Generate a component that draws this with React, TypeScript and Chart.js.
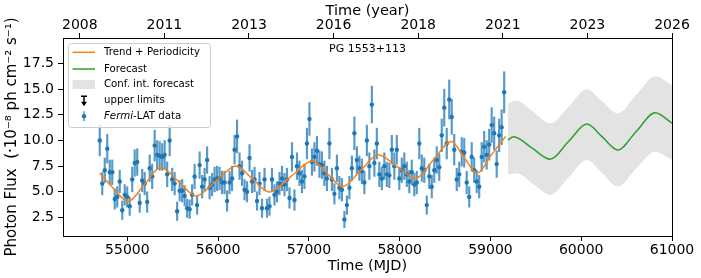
import React, { useEffect, useRef } from 'react';
import { Chart, registerables } from 'chart.js';

Chart.register(...registerables);

// ---- Data ----
const MJD = [
  54696, 54723.5, 54751, 54778.5, 54806, 54833.5, 54861, 54888.5, 54916, 54943.5,
  54971, 54998.5, 55026, 55053.5, 55081, 55108.5, 55136, 55163.5, 55191, 55218.5,
  55246, 55273.5, 55301, 55328.5, 55356, 55383.5, 55411, 55438.5, 55466, 55493.5,
  55521, 55548.5, 55576, 55603.5, 55631, 55658.5, 55686, 55713.5, 55741, 55768.5,
  55796, 55823.5, 55851, 55878.5, 55906, 55933.5, 55961, 55988.5, 56016, 56043.5,
  56071, 56098.5, 56126, 56153.5, 56181, 56208.5, 56236, 56263.5, 56291, 56318.5,
  56346, 56373.5, 56401, 56428.5, 56456, 56483.5, 56511, 56538.5, 56566, 56593.5,
  56621, 56648.5, 56676, 56703.5, 56731, 56758.5, 56786, 56813.5, 56841, 56868.5,
  56896, 56923.5, 56951, 56978.5, 57006, 57033.5, 57061, 57088.5, 57116, 57143.5,
  57171, 57198.5, 57226, 57253.5, 57281, 57308.5, 57336, 57363.5, 57391, 57418.5,
  57446, 57473.5, 57501, 57528.5, 57556, 57583.5, 57611, 57638.5, 57666, 57693.5,
  57721, 57748.5, 57776, 57803.5, 57831, 57858.5, 57886, 57913.5, 57941, 57968.5,
  57996, 58023.5, 58051, 58078.5, 58106, 58133.5, 58161, 58188.5, 58216, 58243.5,
  58271, 58298.5, 58326, 58353.5, 58381, 58408.5, 58436, 58463.5, 58491, 58518.5,
  58546, 58573.5, 58601, 58628.5, 58656, 58683.5, 58711, 58738.5, 58766, 58793.5,
  58821, 58848.5, 58876, 58903.5, 58931, 58958.5, 58986, 59013.5, 59041, 59068.5,
  59096, 59123.5, 59151,
];

const FLUX = [
  10.0, 5.8, 7.1, 9.2, 6.9, 6.9, 4.3, 4.5, 6.0, 3.2,
  4.7, 4.5, 3.6, 6.2, 7.8, 7.9, 3.9, 6.1, 5.8, 4.0,
  7.3, 6.5, 9.5, 8.6, 8.5, 8.4, 8.6, 6.7, 10.0, 6.2,
  5.8, 3.1, 5.1, 5.1, 4.6, 3.4, 3.3, 4.7, 6.5, 3.7,
  7.6, 5.5, 6.2, 8.1, 5.4, 5.7, 6.2, 6.3, 6.3, 5.9,
  5.9, 4.1, 5.9, 6.3, 9.1, 10.4, 7.5, 6.8, 5.2, 5.0,
  8.3, 6.0, 6.2, 4.1, 5.8, 3.4, 6.2, 3.4, 3.6, 6.2,
  4.7, 5.0, 5.8, 6.3, 5.7, 6.2, 4.4, 8.4, 4.2, 7.5,
  6.8, 6.0, 6.5, 9.7, 12.1, 7.9, 8.4, 9.0, 7.7, 7.6,
  6.8, 6.3, 9.7, 6.2, 4.8, 7.3, 5.4, 5.2, 2.3, 3.7,
  5.4, 7.3, 10.7, 8.1, 7.3, 7.0, 5.9, 10.0, 7.5, 13.5,
  7.8, 9.7, 6.7, 6.3, 7.5, 6.7, 6.6, 9.1, 7.5, 9.1,
  6.3, 7.1, 7.5, 6.7, 6.0, 6.9, 5.7, 5.9, 9.7, 7.3,
  7.1, 3.7, 6.5, 5.5, 7.1, 8.1, 7.4, 10.5, 13.2, 9.7,
  14.0, 12.3, 9.1, 6.2, 6.7, 8.9, 8.8, 5.9, 4.5, 8.4,
  7.1, 6.0, 5.5, 8.4, 9.4, 8.6, 9.6, 11.5, 10.7, 7.7,
  10.5, 11.3, 14.7,
];

const FLUX_ERR = [
  1.5, 1.1, 1.2, 1.4, 1.2, 1.2, 1.0, 1.0, 1.1, 0.9,
  1.0, 1.0, 0.9, 1.2, 1.3, 1.3, 0.9, 1.1, 1.1, 1.0,
  1.3, 1.2, 1.5, 1.4, 1.4, 1.3, 1.4, 1.2, 1.5, 1.1,
  1.1, 0.9, 1.0, 1.1, 1.0, 0.9, 0.9, 1.0, 1.2, 0.9,
  1.3, 1.1, 1.1, 1.3, 1.1, 1.1, 1.2, 1.2, 1.1, 1.1,
  1.1, 1.0, 1.1, 1.2, 1.4, 1.6, 1.3, 1.2, 1.0, 1.0,
  1.3, 1.1, 1.2, 0.9, 1.1, 0.9, 1.1, 0.9, 0.9, 1.1,
  1.0, 1.0, 1.1, 1.2, 1.1, 1.1, 1.0, 1.4, 1.0, 1.3,
  1.2, 1.1, 1.2, 1.5, 1.6, 1.3, 1.4, 1.4, 1.3, 1.3,
  1.2, 1.2, 1.5, 1.1, 1.0, 1.3, 1.1, 1.1, 0.8, 0.9,
  1.1, 1.2, 1.6, 1.3, 1.2, 1.2, 1.1, 1.5, 1.3, 1.8,
  1.3, 1.5, 1.2, 1.1, 1.3, 1.2, 1.2, 1.4, 1.3, 1.4,
  1.1, 1.2, 1.3, 1.2, 1.1, 1.2, 1.1, 1.1, 1.5, 1.3,
  1.2, 0.9, 1.2, 1.1, 1.2, 1.3, 1.3, 1.6, 1.8, 1.5,
  1.9, 1.7, 1.5, 1.1, 1.2, 1.4, 1.4, 1.1, 1.0, 1.4,
  1.2, 1.1, 1.1, 1.4, 1.5, 1.4, 1.5, 1.7, 1.6, 1.3,
  1.6, 1.7, 2.0,
];

const TREND_MJD = [
  54696, 54850, 55007, 55187, 55366, 55564, 55758, 55978, 56198, 56380,
  56564, 56802, 57040, 57204, 57369, 57567, 57765, 57970, 58176, 58371,
  58567, 58710, 58853, 59010, 59168,
];
const TREND_FLUX = [
  6.8, 5.3, 4.05, 5.7, 7.36, 6.0, 4.6, 6.05, 7.52, 6.25,
  4.97, 6.5, 8.0, 6.75, 5.5, 7.05, 8.6, 7.45, 6.33, 8.1,
  9.9, 8.35, 6.8, 8.6, 10.4,
];

const FORECAST_MJD = [59193, 59256, 59457, 59659, 59860, 60062, 60232, 60402, 60608, 60813, 61000];
const FORECAST_FLUX = [10.05, 10.37, 9.27, 8.17, 9.9, 11.6, 10.35, 9.08, 10.9, 12.7, 11.7];

const CONF_MJD = [59193, 59285, 59470, 59659, 59860, 60062, 60232, 60402, 60608, 60813, 61000];
const CONF_UPPER = [13.6, 13.87, 12.8, 11.67, 13.3, 15.0, 13.8, 12.64, 14.45, 16.27, 15.39];
const CONF_LOWER = [6.65, 6.8, 5.75, 4.7, 6.4, 8.1, 6.8, 5.51, 7.3, 8.9, 8.1];

const X_TICKS = [55000, 56000, 57000, 58000, 59000, 60000, 61000];
const Y_TICKS = [2.5, 5.0, 7.5, 10.0, 12.5, 15.0, 17.5];
const YEAR_TICK_MJD = [54476, 55408, 56340, 57272, 58204, 59136, 60068, 61000];
const YEAR_LABELS = ['2008', '2011', '2013', '2016', '2018', '2021', '2023', '2026'];

const SOURCE_NAME = 'PG 1553+113';
const X_MIN = 54291;
const X_MAX = 61000;
const Y_MIN = 0.69;
const Y_MAX = 19.99;

const FONT = 'DejaVu Sans';
const BLUE = '#1f77b4';
const ORANGE = '#ff7f0e';
const GREEN = '#2ca02c';
const BAND = '#e3e3e3';

const overlayPlugin = {
  id: 'overlay',
  afterDraw(chart: any) {
    const { ctx, chartArea: a } = chart;
    ctx.save();
    // axes frame
    ctx.strokeStyle = '#000';
    ctx.lineWidth = 1;
    ctx.strokeRect(a.left + 0.5, a.top + 0.5, a.right - a.left, a.bottom - a.top);

    // source name
    ctx.fillStyle = '#000';
    ctx.font = `11px "${FONT}"`;
    ctx.textAlign = 'center';
    ctx.textBaseline = 'middle';
    ctx.fillText(SOURCE_NAME, (a.left + a.right) / 2, a.top + 11);

    // legend box
    const bx = a.left + 5.5;
    const by = a.top + 5.5;
    const bw = 142;
    const bh = 84;
    ctx.beginPath();
    if (ctx.roundRect) ctx.roundRect(bx, by, bw, bh, 3);
    else ctx.rect(bx, by, bw, bh);
    ctx.fillStyle = 'rgba(255,255,255,0.8)';
    ctx.fill();
    ctx.strokeStyle = '#cccccc';
    ctx.lineWidth = 1;
    ctx.stroke();

    const hx0 = a.left + 9.5;
    const hx1 = a.left + 32;
    const hxc = a.left + 21;
    const tx = a.left + 41;
    const rows = [a.top + 14.3, a.top + 31, a.top + 46.5, a.top + 62.7, a.top + 78.3];
    ctx.font = `10.2px "${FONT}"`;
    ctx.textAlign = 'left';
    ctx.textBaseline = 'middle';

    // Trend
    ctx.strokeStyle = ORANGE;
    ctx.lineWidth = 1.5;
    ctx.beginPath();
    ctx.moveTo(hx0, rows[0]);
    ctx.lineTo(hx1, rows[0]);
    ctx.stroke();
    ctx.fillStyle = '#000';
    ctx.fillText('Trend + Periodicity', tx, rows[0]);

    // Forecast
    ctx.strokeStyle = GREEN;
    ctx.beginPath();
    ctx.moveTo(hx0, rows[1]);
    ctx.lineTo(hx1, rows[1]);
    ctx.stroke();
    ctx.fillText('Forecast', tx, rows[1]);

    // Conf. int.
    ctx.fillStyle = BAND;
    ctx.fillRect(hx0, rows[2] - 4.5, hx1 - hx0, 9);
    ctx.fillStyle = '#000';
    ctx.fillText('Conf. int. forecast', tx, rows[2]);

    // upper limits
    ctx.strokeStyle = '#000';
    ctx.lineWidth = 1.5;
    ctx.beginPath();
    ctx.moveTo(hxc - 3, rows[3] - 4.5);
    ctx.lineTo(hxc + 3, rows[3] - 4.5);
    ctx.moveTo(hxc, rows[3] - 4.5);
    ctx.lineTo(hxc, rows[3] + 1.5);
    ctx.stroke();
    ctx.beginPath();
    ctx.moveTo(hxc - 3, rows[3] + 1);
    ctx.lineTo(hxc + 3, rows[3] + 1);
    ctx.lineTo(hxc, rows[3] + 5.5);
    ctx.closePath();
    ctx.fill();
    ctx.fillText('upper limits', tx, rows[3]);

    // Fermi-LAT data
    ctx.strokeStyle = 'rgba(31,119,180,0.75)';
    ctx.lineWidth = 1.5;
    ctx.beginPath();
    ctx.moveTo(hxc, rows[4] - 5);
    ctx.lineTo(hxc, rows[4] + 5);
    ctx.stroke();
    ctx.fillStyle = BLUE;
    ctx.beginPath();
    ctx.arc(hxc, rows[4], 2.2, 0, Math.PI * 2);
    ctx.fill();
    ctx.fillStyle = '#000';
    ctx.font = `italic 10.2px "${FONT}"`;
    ctx.fillText('Fermi', tx, rows[4]);
    const w = ctx.measureText('Fermi').width;
    ctx.font = `10.2px "${FONT}"`;
    ctx.fillText('-LAT data', tx + w, rows[4]);

    ctx.restore();
  },
};

export default function App() {
  const ref = useRef<HTMLCanvasElement | null>(null);

  useEffect(() => {
    document.body.style.margin = '0';
    const canvas = ref.current;
    if (!canvas) return;

    const tickFont = { family: FONT, size: 14 };
    const tickGrid = {
      display: true,
      drawOnChartArea: false,
      drawTicks: true,
      tickLength: 5,
      color: '#000',
      tickColor: '#000',
      lineWidth: 1,
    };

    const chart = new Chart(canvas, {
      type: 'line',
      data: {
        datasets: [
          {
            type: 'line',
            label: 'conf-lower',
            data: CONF_MJD.map((x, i) => ({ x, y: CONF_LOWER[i] })),
            borderWidth: 0,
            borderColor: 'rgba(0,0,0,0)',
            pointRadius: 0,
            fill: false,
            cubicInterpolationMode: 'monotone',
            order: 5,
          },
          {
            type: 'line',
            label: 'Conf. int. forecast',
            data: CONF_MJD.map((x, i) => ({ x, y: CONF_UPPER[i] })),
            borderWidth: 0,
            borderColor: 'rgba(0,0,0,0)',
            backgroundColor: BAND,
            pointRadius: 0,
            fill: '-1',
            cubicInterpolationMode: 'monotone',
            order: 5,
          },
          {
            type: 'bar',
            label: 'errors',
            data: MJD.map((x, i) => ({ x, y: [FLUX[i] - FLUX_ERR[i], FLUX[i] + FLUX_ERR[i]] })),
            backgroundColor: 'rgba(31,119,180,0.75)',
            borderWidth: 0,
            barThickness: 1.5,
            order: 3,
          } as any,
          {
            type: 'line',
            label: 'Fermi-LAT data',
            data: MJD.map((x, i) => ({ x, y: FLUX[i] })),
            showLine: false,
            pointRadius: 2.2,
            pointBackgroundColor: BLUE,
            pointBorderWidth: 0,
            borderColor: BLUE,
            order: 2,
          },
          {
            type: 'line',
            label: 'Trend + Periodicity',
            data: TREND_MJD.map((x, i) => ({ x, y: TREND_FLUX[i] })),
            borderColor: ORANGE,
            borderWidth: 1.5,
            pointRadius: 0,
            cubicInterpolationMode: 'monotone',
            fill: false,
            order: 1,
          },
          {
            type: 'line',
            label: 'Forecast',
            data: FORECAST_MJD.map((x, i) => ({ x, y: FORECAST_FLUX[i] })),
            borderColor: GREEN,
            borderWidth: 1.5,
            pointRadius: 0,
            cubicInterpolationMode: 'monotone',
            fill: false,
            order: 1,
          },
        ],
      },
      options: {
        responsive: false,
        animation: false,
        events: [],
        layout: { padding: { left: 0, right: 29, top: 0, bottom: 0 } },
        plugins: {
          legend: { display: false },
          tooltip: { enabled: false },
          title: { display: false },
        },
        scales: {
          x: {
            type: 'linear',
            position: 'bottom',
            min: X_MIN,
            max: X_MAX,
            offset: false,
            afterBuildTicks: (s: any) => {
              s.ticks = X_TICKS.map((v) => ({ value: v }));
            },
            afterFit: (s: any) => {
              s.height = 42;
            },
            ticks: {
              callback: (v: any) => String(v),
              font: tickFont,
              color: '#000',
              padding: 1,
              autoSkip: false,
              maxRotation: 0,
            },
            grid: { ...tickGrid, offset: false },
            border: { display: false },
            title: {
              display: true,
              text: 'Time (MJD)',
              font: { family: FONT, size: 14.5 },
              color: '#000',
              padding: { top: 0, bottom: 3 },
            },
          },
          xTop: {
            type: 'linear',
            position: 'top',
            min: X_MIN,
            max: X_MAX,
            offset: false,
            afterBuildTicks: (s: any) => {
              s.ticks = YEAR_TICK_MJD.map((v) => ({ value: v }));
            },
            afterFit: (s: any) => {
              s.height = 38;
            },
            ticks: {
              callback: (_v: any, i: number) => YEAR_LABELS[i],
              font: tickFont,
              color: '#000',
              padding: -1,
              autoSkip: false,
              maxRotation: 0,
            },
            grid: { ...tickGrid, offset: false },
            border: { display: false },
            title: {
              display: true,
              text: 'Time (year)',
              font: { family: FONT, size: 14.5 },
              color: '#000',
              padding: { top: 3, bottom: 0 },
            },
          },
          y: {
            type: 'linear',
            position: 'left',
            min: Y_MIN,
            max: Y_MAX,
            afterBuildTicks: (s: any) => {
              s.ticks = Y_TICKS.map((v) => ({ value: v }));
            },
            afterFit: (s: any) => {
              s.width = 63;
            },
            ticks: {
              callback: (v: any) => Number(v).toFixed(1),
              font: tickFont,
              color: '#000',
              padding: 4,
              autoSkip: false,
            },
            grid: tickGrid,
            border: { display: false },
            title: {
              display: true,
              text: 'Photon Flux  (·10⁻⁸ ph cm⁻² s⁻¹)',
              font: { family: FONT, size: 15 },
              color: '#000',
              padding: { top: 3, bottom: 0 },
            },
          },
        },
      } as any,
      plugins: [overlayPlugin],
    });

    return () => {
      chart.destroy();
    };
  }, []);

  return (
    <div style={{ width: 701, height: 278 }}>
      <canvas ref={ref} width={701} height={278} style={{ display: 'block', width: 701, height: 278 }} />
    </div>
  );
}
